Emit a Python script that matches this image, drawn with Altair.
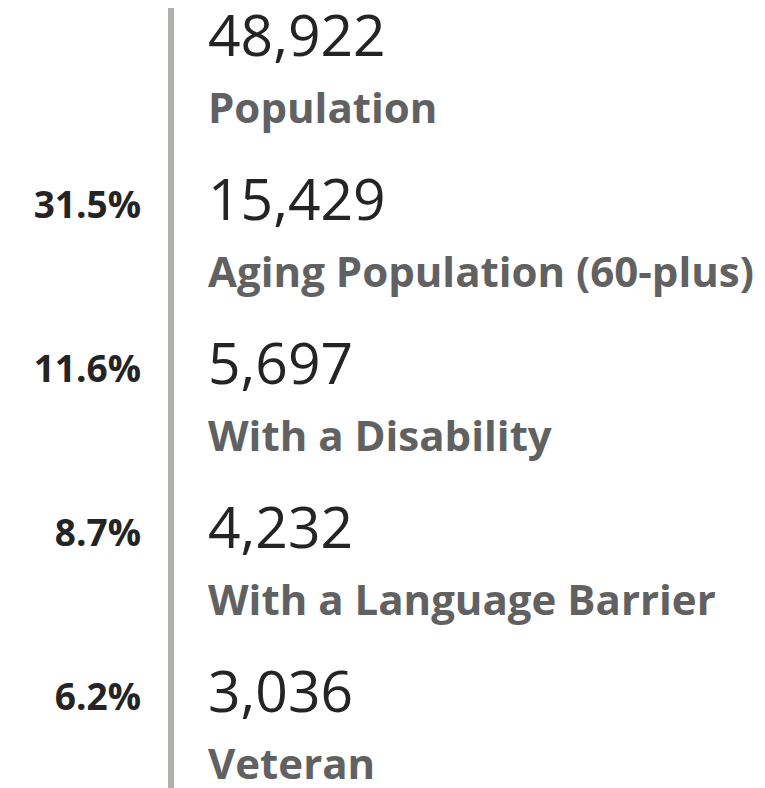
import altair as alt
import pandas as pd

# Data
labels = ["Population", "Aging Population (60-plus)", "With a Disability",
          "With a Language Barrier", "Veteran"]
counts = [48922, 15429, 5697, 4232, 3036]
percents = ["", "31.5%", "11.6%", "8.7%", "6.2%"]

df = pd.DataFrame({
    "row": list(range(len(labels))),
    "label": labels,
    "count": counts,
    "pct": percents,
})
df["count_text"] = df["count"].map(lambda v: f"{v:,}")

FONT = "Open Sans"
W, H = 749, 780

y = alt.Y("row:O", axis=None,
          scale=alt.Scale(type="point", padding=0.3745))

base = alt.Chart(df)

numbers = base.mark_text(
    align="left", baseline="alphabetic", font=FONT, fontSize=57,
    fontWeight=400, color="#252423", dy=-14
).encode(y=y, x=alt.value(200), text="count_text:N")

names = base.mark_text(
    align="left", baseline="alphabetic", font=FONT, fontSize=42,
    fontWeight=700, color="#616161", dy=53
).encode(y=y, x=alt.value(200), text="label:N")

pcts = base.mark_text(
    align="right", baseline="alphabetic", font=FONT, fontSize=37,
    fontWeight=700, color="#252423", dy=-16
).encode(y=y, x=alt.value(133), text="pct:N")

divider = alt.Chart(pd.DataFrame({"a": [0]})).mark_rule(
    color="#b3b0ad", strokeWidth=6, clip=False
).encode(x=alt.value(163), y=alt.value(-8), y2=alt.value(H + 8))

chart = alt.layer(divider, numbers, names, pcts).properties(
    width=W, height=H, padding=0, autosize=alt.AutoSizeParams(type="none")
).configure_view(stroke=None)

chart.save("out.html", embed_options={"renderer": "svg", "actions": False})
